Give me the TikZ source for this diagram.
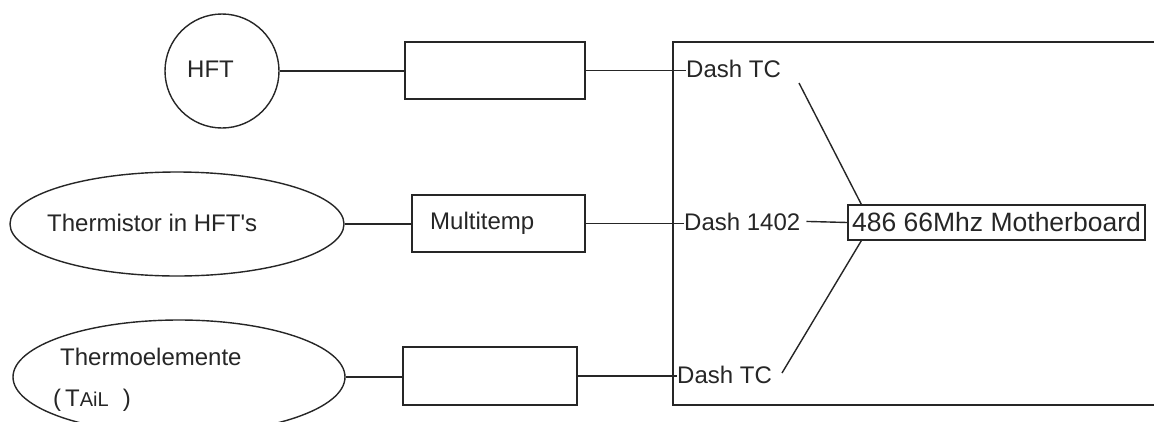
\documentclass[tikz,border=0pt]{standalone}
\usepackage{fontspec}
\setmainfont{Liberation Sans}
\newfontfamily\plainfont{Liberation Sans}
\usetikzlibrary{shapes.geometric,calc}
\begin{document}
\begin{tikzpicture}[x=1pt,y=-1pt,
  ln/.style={line width=1.4pt, draw=black!85},
  txt/.style={font=\fontsize{24}{28}\selectfont, inner sep=0pt, anchor=base west, text=black!85},
  boxst/.style={ln, rectangle, inner sep=0pt},
  ellst/.style={ln, ellipse, inner sep=0pt}]
\useasboundingbox (0,0) rectangle (1154,421);
\fill[white] (0,0) rectangle (1154,421);

% left column
\node[ln, circle, inner sep=0pt, minimum size=114pt] (hft) at (222,71) {};
\node[txt] (hftt) at (187,77) {HFT};
\node[ellst, minimum width=334pt, minimum height=104pt] (th) at (177,224) {};
\node[txt] (tht) at (47,231) {Thermistor in HFT{\plainfont '}s};
\node[ellst, minimum width=332pt, minimum height=114pt] (te) at (179,377) {};
\node[txt] (tet) at (60,365) {Thermoelemente};
\node[txt] (tet2) at (53,406) {(\hspace{4pt}T{\fontsize{20}{24}\selectfont AiL}\hspace{14pt})};

% middle boxes
\node[boxst, minimum width=180pt, minimum height=57pt] (b1) at (495,70.5) {};
\node[boxst, minimum width=173pt, minimum height=57pt] (b2) at (498.5,223.5) {};
\node[txt] (mt) at (430,229) {Multitemp};
\node[boxst, minimum width=174pt, minimum height=58pt] (b3) at (490,376) {};

% big open rectangle
\draw[ln] (1154,42) -- (673,42) -- (673,405) -- (1154,405);

% right labels
\node[txt] (tc1) at (686,77) {Dash TC};
\node[txt] (d14) at (684,230) {Dash 1402};
\node[txt] (tc3) at (677,383) {Dash TC};
\node[boxst, minimum width=297pt, minimum height=35pt,
      font=\fontsize{26.5}{30}\selectfont, text=black!85] (mb) at (996.5,222.5) {486 66Mhz Motherboard};

% connectors
\draw[ln] (hft.east) -- (hft.east -| b1.west);
\draw[ln] (b1.east) -- (b1.east -| tc1.west);
\draw[ln] (th.east) -- (th.east -| b2.west);
\draw[ln] (b2.east) -- (b2.east -| d14.west);
\draw[ln] (te.east) -- (te.east -| b3.west);
\draw[ln] (b3.east) -- (b3.east -| tc3.west);
\draw[ln] ($(d14.east)+(6,0)$ |- mb.west) -- (mb.west);
\coordinate (p1) at (799,83);
\coordinate (p3) at (782,373);
\draw[ln] (p1) -- ($(mb.north west)+(14,0)$);
\draw[ln] (p3) -- ($(mb.south west)+(14,0)$);
\end{tikzpicture}
\end{document}
